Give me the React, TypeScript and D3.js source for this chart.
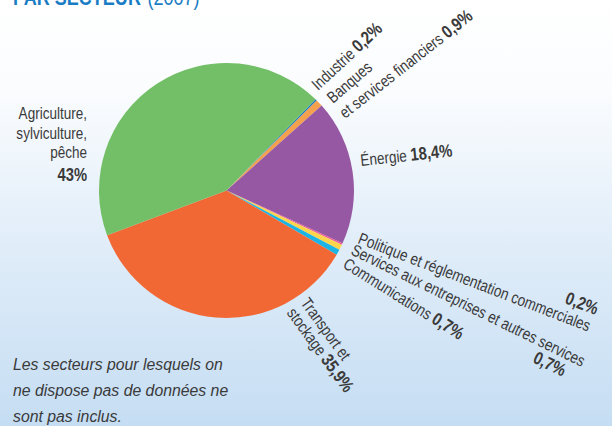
import React from "react";
import * as d3 from "d3";

const categories = [
  "Industrie",
  "Banques et services financiers",
  "Énergie",
  "Politique et réglementation commerciales",
  "Services aux entreprises et autres services",
  "Communications",
  "Transport et stockage",
  "Agriculture, sylviculture, pêche",
];
const values = [0.2, 0.9, 18.4, 0.2, 0.7, 0.7, 35.9, 43];
const valueLabels = ["0,2%", "0,9%", "18,4%", "0,2%", "0,7%", "0,7%", "35,9%", "43%"];
const colors = ["#1a7ac4", "#f4a04c", "#9658a2", "#e85a9c", "#fdd54d", "#1bb4e4", "#f26834", "#72bf67"];

const W = 612;
const H = 426;
const cx = 226.5;
const cy = 190.5;
const R = 127.5;

const LBL = "'Liberation Sans', Arial, sans-serif";
const TXT = "#3a3a3a";
const SX = 0.82;

export default function App() {
  const pie = d3
    .pie<number>()
    .sort(null)
    .startAngle((44.3 * Math.PI) / 180)
    .endAngle((44.3 * Math.PI) / 180 + 2 * Math.PI);
  const arcs = pie(values);
  const arc = d3.arc<d3.PieArcDatum<number>>().innerRadius(0).outerRadius(R);

  const lbl = { fontFamily: LBL, fontSize: 16.5, fill: TXT } as const;
  const bold = { fontWeight: 700, fontSize: 18 } as const;
  const tf = (x: number, y: number, a: number) => `translate(${x},${y}) rotate(${a}) scale(${SX},1)`;

  return (
    <svg
      width={W}
      height={H}
      style={{ position: "absolute", left: 0, top: 0 }}
      xmlns="http://www.w3.org/2000/svg"
    >
      <defs>
        <linearGradient id="bg" x1="0" y1="0" x2="0" y2="1">
          <stop offset="0" stopColor="#ffffff" />
          <stop offset="0.22" stopColor="#fafcfe" />
          <stop offset="0.55" stopColor="#e2eef9" />
          <stop offset="1" stopColor="#c5ddf3" />
        </linearGradient>
      </defs>
      <rect x={0} y={0} width={W} height={H} fill="url(#bg)" />

      {/* title (cut off at top) */}
      <g transform={tf(13, 5, 0)}>
        <text x={0} y={0} fontFamily={LBL} fontSize={22} fill="#1a7dc4">
          <tspan fontWeight={700}>PAR SECTEUR</tspan>
          <tspan dx={8} fontWeight={400}>(2007)</tspan>
        </text>
      </g>

      <g transform={`translate(${cx},${cy})`}>
        {arcs.map((a, i) => (
          <path key={categories[i]} d={arc(a) || ""} fill={colors[i]} />
        ))}
      </g>

      {/* Agriculture */}
      <g {...lbl} textAnchor="end" transform={tf(87, 0, 0)}>
        <text x={0} y={119}>Agriculture,</text>
        <text x={0} y={139}>sylviculture,</text>
        <text x={0} y={158}>pêche</text>
        <text x={0} y={181} {...bold}>{valueLabels[7]}</text>
      </g>

      {/* Industrie / Banques */}
      <g {...lbl} transform={tf(318, 91, -43)}>
        <text x={0} y={0}>
          Industrie <tspan {...bold}>{valueLabels[0]}</tspan>
        </text>
      </g>
      <g {...lbl} transform={tf(333, 104, -41)}>
        <text x={0} y={0}>Banques</text>
      </g>
      <g {...lbl} transform={tf(345, 119, -38)}>
        <text x={0} y={0}>
          et services financiers <tspan {...bold}>{valueLabels[1]}</tspan>
        </text>
      </g>

      {/* Énergie */}
      <g {...lbl} transform={tf(361, 166, -6)}>
        <text x={0} y={0}>
          Énergie <tspan {...bold}>{valueLabels[2]}</tspan>
        </text>
      </g>

      {/* Politique */}
      <g {...lbl} transform={tf(357, 243, 21)}>
        <text x={0} y={0}>Politique et réglementation commerciales</text>
      </g>
      <g {...lbl} transform={tf(564, 303, 21)}>
        <text x={0} y={0} {...bold}>{valueLabels[3]}</text>
      </g>

      {/* Services */}
      <g {...lbl} transform={tf(350, 254, 26)}>
        <text x={0} y={0}>Services aux entreprises et autres services</text>
      </g>
      <g {...lbl} transform={tf(532, 362, 26)}>
        <text x={0} y={0} {...bold}>{valueLabels[4]}</text>
      </g>

      {/* Communications */}
      <g {...lbl} transform={tf(342, 267, 32)}>
        <text x={0} y={0}>
          Communications <tspan {...bold}>{valueLabels[5]}</tspan>
        </text>
      </g>

      {/* Transport */}
      <g {...lbl} transform={tf(300, 303, 54)}>
        <text x={0} y={0}>Transport et</text>
        <text x={0} y={17}>
          stockage <tspan {...bold}>{valueLabels[6]}</tspan>
        </text>
      </g>

      {/* note */}
      <g fontFamily="'Liberation Sans', 'DejaVu Sans', sans-serif" fontStyle="italic" fontSize={15.8} fill={TXT}>
        <text x={13} y={370}>Les secteurs pour lesquels on</text>
        <text x={13} y={396}>ne dispose pas de données ne</text>
        <text x={13} y={422}>sont pas inclus.</text>
      </g>
    </svg>
  );
}
